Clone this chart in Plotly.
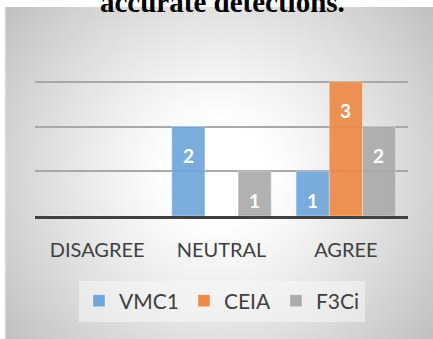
import base64
import math
import struct
import zlib

import plotly.graph_objects as go

# Survey responses per detector
categories = ["DISAGREE", "NEUTRAL", "AGREE"]
series_names = ["VMC1", "CEIA", "F3Ci"]
vmc1 = [0, 2, 1]
ceia = [0, 0, 3]
f3ci = [0, 1, 2]
y_ticks = [0, 1, 2, 3, 4]
title_text = "accurate detections."

colors = {"VMC1": "#6FA6DA", "CEIA": "#EE8A47", "F3Ci": "#ABABAB"}
values = {"VMC1": vmc1, "CEIA": ceia, "F3Ci": f3ci}

W, H = 433, 339
# plot area in pixels
PL, PR, PT, PB = 35, 408, 37, 216


def px_x(x):
    return (x - PL) / (PR - PL)


def px_y(y):
    return (PB - y) / (PB - PT)


def radial_png(w, h):
    """Small grayscale PNG: white centre fading to grey toward the corners."""
    cx, cy = (w - 1) / 2, (h - 1) / 2
    rmax = math.hypot(cx, cy)
    raw = bytearray()
    for j in range(h):
        raw.append(0)
        for i in range(w):
            t = math.hypot(i - cx, j - cy) / rmax
            s = max(0.0, (t - 0.18) / 0.82)
            raw.append(int(round(255 - 62 * s ** 1.15)))

    def chunk(tag, data):
        c = struct.pack(">I", len(data)) + tag + data
        return c + struct.pack(">I", zlib.crc32(tag + data) & 0xFFFFFFFF)

    png = b"\x89PNG\r\n\x1a\n"
    png += chunk(b"IHDR", struct.pack(">IIBBBBB", w, h, 8, 0, 0, 0, 0))
    png += chunk(b"IDAT", zlib.compress(bytes(raw), 9))
    png += chunk(b"IEND", b"")
    return "data:image/png;base64," + base64.b64encode(png).decode()


fig = go.Figure()
for name in series_names:
    fig.add_trace(go.Bar(
        x=categories, y=values[name], name=name,
        marker=dict(color=colors[name], opacity=0.92,
                    line=dict(color="rgba(255,255,255,0.35)", width=1)),
        hoverinfo="skip",
    ))

# value labels inside the top of each non-zero bar
offsets = {"VMC1": -1, "CEIA": 0, "F3Ci": 1}
annotations = []
for name in series_names:
    for k, (cat, v) in enumerate(zip(categories, values[name])):
        if v > 0:
            annotations.append(dict(
                x=k + offsets[name] * 0.2667, y=v, xref="x", yref="y",
                text=f"<b>{v}</b>", showarrow=False, yanchor="middle",
                yshift=-29, font=dict(family="Lato", size=19, color="white"),
            ))

annotations.append(dict(
    x=px_x(222), y=px_y(20), xref="paper", yref="paper",
    text=f"<b>{title_text}</b>", showarrow=False, yanchor="bottom",
    font=dict(family="Liberation Serif", size=29, color="black"),
))

bg_left, bg_top, bg_right, bg_bottom = 5, 7, 433, 339
fig.update_layout(
    width=W, height=H,
    margin=dict(l=PL, r=W - PR, t=PT, b=H - PB),
    paper_bgcolor="white", plot_bgcolor="rgba(0,0,0,0)",
    barmode="group", bargap=0.2, bargroupgap=0.0,
    showlegend=True,
    legend=dict(
        orientation="h", x=px_x(222), xanchor="center",
        y=px_y(301), yanchor="middle",
        bgcolor="rgba(248,248,248,0.55)",
        font=dict(family="Lato", size=21, color="#404040"),
        itemwidth=30, tracegroupgap=0,
    ),
    xaxis=dict(
        type="category", showgrid=False, showline=True, linecolor="#404040",
        linewidth=3, ticks="", ticklabelstandoff=14,
        tickfont=dict(family="Lato", size=20, color="#404040"),
        range=[-0.5, 2.5],
    ),
    yaxis=dict(
        range=[0, 4], tickvals=y_ticks, showticklabels=False,
        showgrid=True, gridcolor="#A8A8A8", gridwidth=1.5, zeroline=False,
    ),
    images=[dict(
        source=radial_png(107, 83), xref="paper", yref="paper",
        x=px_x(bg_left), y=px_y(bg_top),
        sizex=px_x(bg_right) - px_x(bg_left),
        sizey=px_y(bg_top) - px_y(bg_bottom),
        sizing="stretch", layer="below", xanchor="left", yanchor="top",
    )],
    shapes=[dict(
        type="line", xref="paper", yref="paper", layer="below",
        x0=px_x(bg_left), x1=px_x(bg_left), y0=px_y(bg_top), y1=px_y(bg_bottom),
        line=dict(color="#EDEDED", width=1),
    )],
    annotations=annotations,
)

fig.write_html("out.html")
